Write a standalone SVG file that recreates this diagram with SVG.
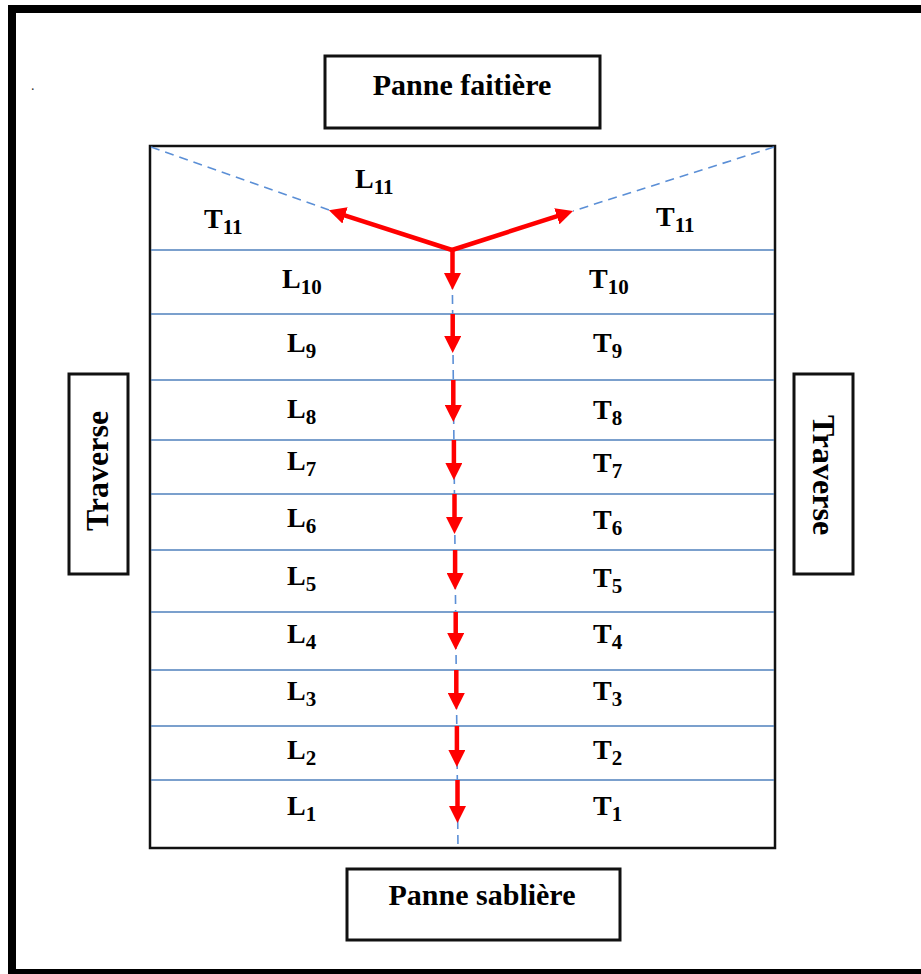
<svg xmlns="http://www.w3.org/2000/svg" width="921" height="974" viewBox="0 0 921 974">
  <style>
    .frame { fill: #000; }
    .box { fill: #fff; stroke: #111; stroke-width: 3; }
    .outline { fill: none; stroke: #111; stroke-width: 2.5; }
    .title { font-family: "Liberation Serif", "Times New Roman", serif; font-weight: bold; font-size: 30px; fill: #000; text-anchor: middle; }
    .side { font-size: 32px; }
    .lbl { font-family: "Liberation Serif", "Times New Roman", serif; font-weight: bold; font-size: 28px; fill: #000; }
    .sub { font-size: 21px; }
    .purlin { stroke: #4f81bd; stroke-width: 1.6; }
    .dash { stroke: #5b8fd6; stroke-width: 1.6; stroke-dasharray: 9 6; fill: none; }
    .load { stroke: #ff0000; stroke-width: 4.5; fill: none; marker-end: url(#head); }
  </style>
  <defs>
    <marker id="head" viewBox="0 0 17 17" refX="7" refY="8.5" markerWidth="17" markerHeight="17" markerUnits="userSpaceOnUse" orient="auto">
      <path d="M0,0 L17,8.5 L0,17 z" fill="#ff0000"/>
    </marker>
  </defs>

  <rect width="921" height="974" fill="#fff"/>

  <!-- page frame (open on the right) -->
  <g id="page-frame">
    <rect class="frame" x="8" y="5" width="913" height="8"/>
    <rect class="frame" x="8" y="5" width="8" height="969"/>
    <rect class="frame" x="8" y="969" width="913" height="5"/>
    <text x="31" y="90" font-family="Liberation Serif, serif" font-size="14" fill="#333">.</text>
  </g>

  <!-- roof panel -->
  <g id="panel">
    <rect class="outline" x="150" y="146" width="625" height="702"/>
  </g>

  <!-- purlin lines -->
  <g id="purlins">
    <line class="purlin" x1="151" y1="250" x2="774" y2="250"/>
    <line class="purlin" x1="151" y1="314" x2="774" y2="314"/>
    <line class="purlin" x1="151" y1="380" x2="774" y2="380"/>
    <line class="purlin" x1="151" y1="440" x2="774" y2="440"/>
    <line class="purlin" x1="151" y1="494" x2="774" y2="494"/>
    <line class="purlin" x1="151" y1="550" x2="774" y2="550"/>
    <line class="purlin" x1="151" y1="612" x2="774" y2="612"/>
    <line class="purlin" x1="151" y1="670" x2="774" y2="670"/>
    <line class="purlin" x1="151" y1="726" x2="774" y2="726"/>
    <line class="purlin" x1="151" y1="780" x2="774" y2="780"/>
  </g>

  <!-- connectors: dashed guides and load arrows -->
  <g id="connectors">
    <line class="dash" x1="151" y1="147" x2="329" y2="210"/>
    <line class="dash" x1="774" y1="147" x2="573" y2="211"/>
    <line class="dash" x1="452" y1="250" x2="458" y2="848"/>

    <line class="load" x1="452" y1="250" x2="338.4" y2="213.3"/>
    <line class="load" x1="452" y1="250" x2="563.5" y2="214.1"/>

    <line class="load" x1="452.5" y1="250" x2="452.5" y2="280"/>
    <line class="load" x1="452.7" y1="314" x2="452.7" y2="343"/>
    <line class="load" x1="453.3" y1="380" x2="453.3" y2="412"/>
    <line class="load" x1="453.9" y1="440" x2="453.9" y2="470"/>
    <line class="load" x1="454.5" y1="494" x2="454.5" y2="524"/>
    <line class="load" x1="455.1" y1="550" x2="455.1" y2="580"/>
    <line class="load" x1="455.7" y1="612" x2="455.7" y2="640"/>
    <line class="load" x1="456.3" y1="670" x2="456.3" y2="700"/>
    <line class="load" x1="456.9" y1="726" x2="456.9" y2="757"/>
    <line class="load" x1="457.5" y1="780" x2="457.5" y2="813"/>
  </g>

  <!-- strip labels -->
  <g id="labels">
    <text class="lbl" x="355" y="188">L<tspan class="sub" dy="6">11</tspan></text>
    <text class="lbl" x="204" y="228">T<tspan class="sub" dy="6">11</tspan></text>
    <text class="lbl" x="656" y="226">T<tspan class="sub" dy="6">11</tspan></text>

    <text class="lbl" x="282" y="288">L<tspan class="sub" dy="6">10</tspan></text>
    <text class="lbl" x="589" y="288">T<tspan class="sub" dy="6">10</tspan></text>
    <text class="lbl" x="287" y="352">L<tspan class="sub" dy="6">9</tspan></text>
    <text class="lbl" x="593" y="352">T<tspan class="sub" dy="6">9</tspan></text>
    <text class="lbl" x="287" y="418">L<tspan class="sub" dy="6">8</tspan></text>
    <text class="lbl" x="593" y="419">T<tspan class="sub" dy="6">8</tspan></text>
    <text class="lbl" x="287" y="470">L<tspan class="sub" dy="6">7</tspan></text>
    <text class="lbl" x="593" y="472">T<tspan class="sub" dy="6">7</tspan></text>
    <text class="lbl" x="287" y="527">L<tspan class="sub" dy="6">6</tspan></text>
    <text class="lbl" x="593" y="529">T<tspan class="sub" dy="6">6</tspan></text>
    <text class="lbl" x="287" y="585">L<tspan class="sub" dy="6">5</tspan></text>
    <text class="lbl" x="593" y="587">T<tspan class="sub" dy="6">5</tspan></text>
    <text class="lbl" x="287" y="643">L<tspan class="sub" dy="6">4</tspan></text>
    <text class="lbl" x="593" y="643">T<tspan class="sub" dy="6">4</tspan></text>
    <text class="lbl" x="287" y="700">L<tspan class="sub" dy="6">3</tspan></text>
    <text class="lbl" x="593" y="700">T<tspan class="sub" dy="6">3</tspan></text>
    <text class="lbl" x="287" y="759">L<tspan class="sub" dy="6">2</tspan></text>
    <text class="lbl" x="593" y="759">T<tspan class="sub" dy="6">2</tspan></text>
    <text class="lbl" x="287" y="815">L<tspan class="sub" dy="6">1</tspan></text>
    <text class="lbl" x="593" y="815">T<tspan class="sub" dy="6">1</tspan></text>
  </g>

  <!-- support members -->
  <g id="panne-faitiere">
    <rect class="box" x="325" y="56" width="275" height="72"/>
    <text class="title" x="462" y="95">Panne faitière</text>
  </g>
  <g id="panne-sabliere">
    <rect class="box" x="347" y="869" width="273" height="71"/>
    <text class="title" x="482" y="905">Panne sablière</text>
  </g>
  <g id="traverse-left">
    <rect class="box" x="69" y="374" width="59" height="200"/>
    <text class="title side" transform="translate(108 471) rotate(-90)">Traverse</text>
  </g>
  <g id="traverse-right">
    <rect class="box" x="794" y="374" width="59" height="200"/>
    <text class="title side" transform="translate(813 475) rotate(90)">Traverse</text>
  </g>
</svg>
